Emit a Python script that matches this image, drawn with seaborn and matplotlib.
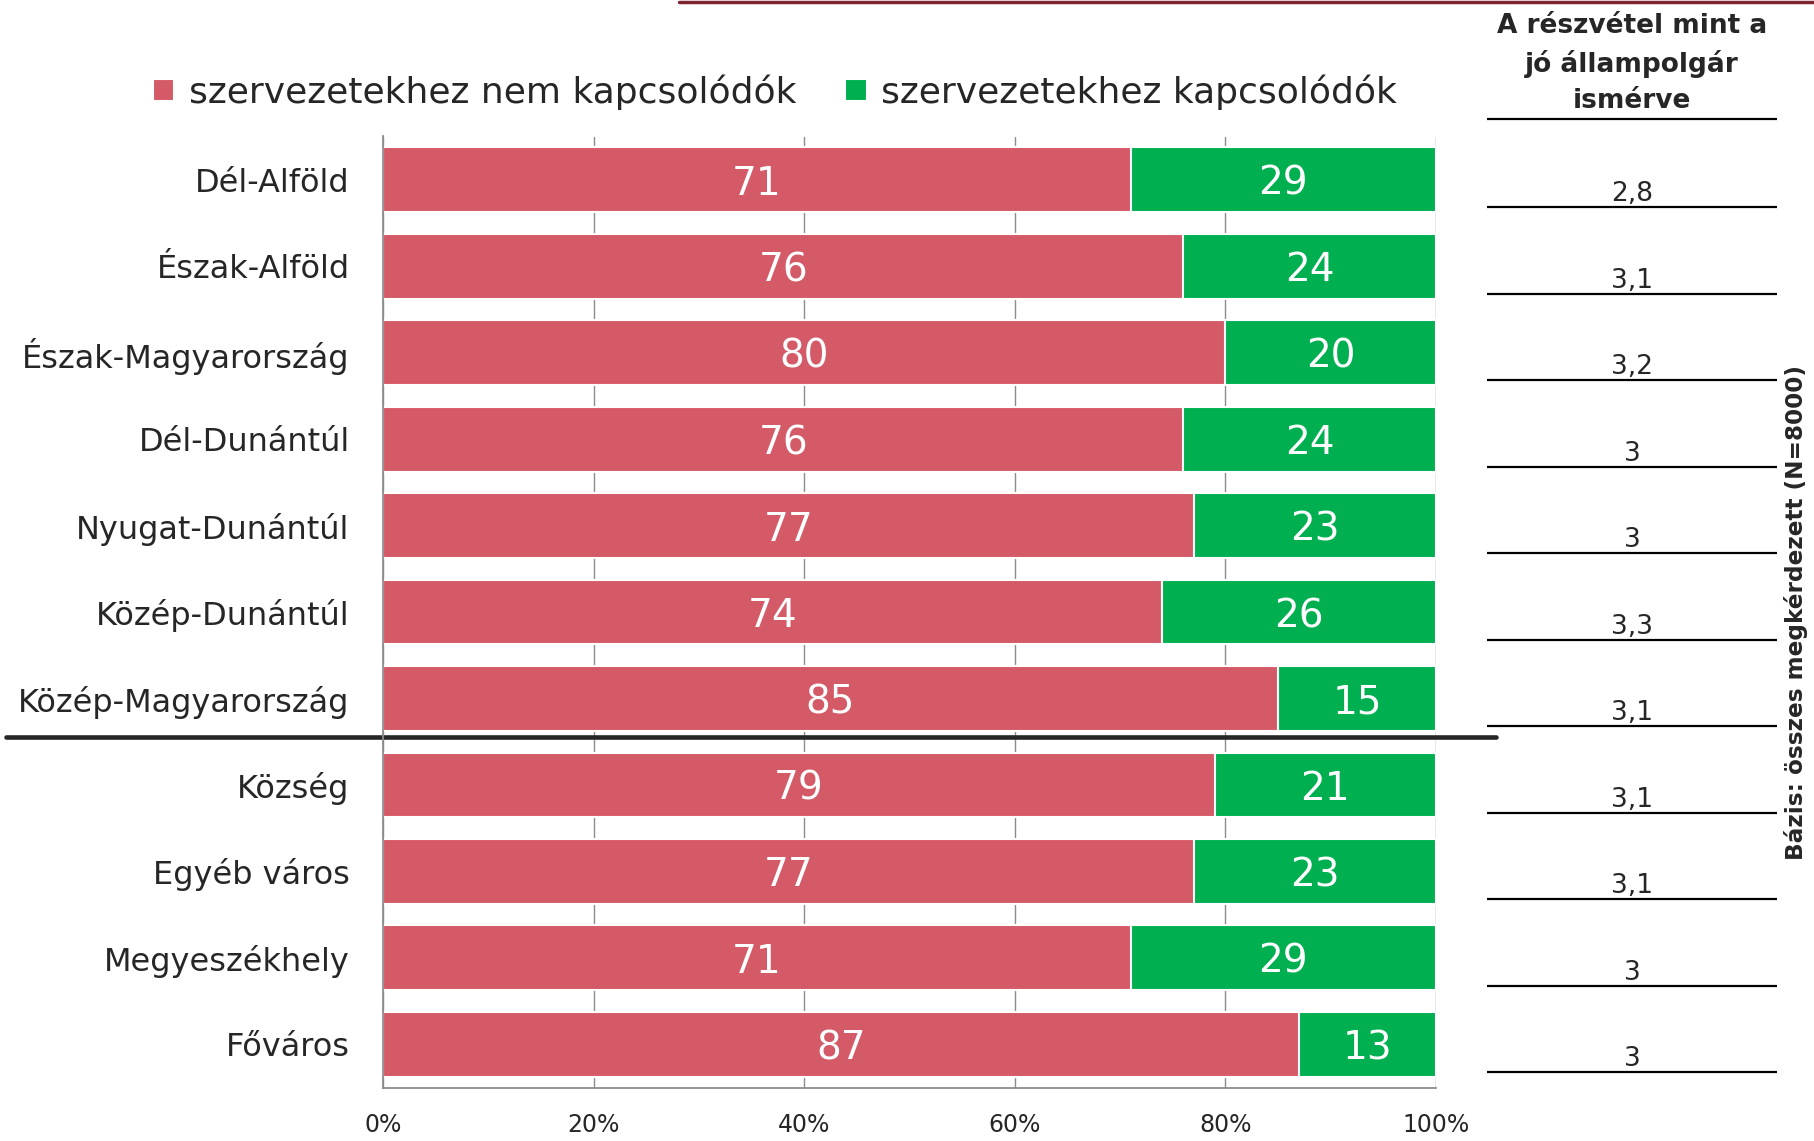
import numpy as np
import pandas as pd
import matplotlib.pyplot as plt
from matplotlib.lines import Line2D
import seaborn as sbs


# Data
regions = ["Dél-Alföld", "Észak-Alföld", "Észak-Magyarország", "Dél-Dunántúl",
           "Nyugat-Dunántúl", "Közép-Dunántúl", "Közép-Magyarország",
           "Község", "Egyéb város", "Megyeszékhely", "Főváros"]
not_linked = [71, 76, 80, 76, 77, 74, 85, 79, 77, 71, 87]
linked = [29, 24, 20, 24, 23, 26, 15, 21, 23, 29, 13]
citizen_score = ["2,8", "3,1", "3,2", "3", "3", "3,3", "3,1", "3,1", "3,1", "3", "3"]
x_ticks = [0, 20, 40, 60, 80, 100]
x_tick_labels = ["0%", "20%", "40%", "60%", "80%", "100%"]

label_red = "szervezetekhez nem kapcsolódók"
label_green = "szervezetekhez kapcsolódók"

red = "#D45A68"
green = "#00B050"
grey = "#8C8C8C"

results = pd.DataFrame({"region": regions, "red": not_linked, "green": linked})
results["total"] = results["red"] + results["green"]

sbs.set_style("white")
plt.rcParams["font.family"] = ["DejaVu Sans"]

W, H = 1814, 1141
fig = plt.figure(figsize = (W / 100, H / 100), dpi = 100)

ax_left, ax_right = 383 / W, 1436 / W
ax_top, ax_bottom = 1 - 136.5 / H, 1 - 1087.6 / H
ax = fig.add_axes([ax_left, ax_bottom, ax_right - ax_left, ax_top - ax_bottom])

# Stacked bars: full-length green underneath, red on top
sbs.barplot(data = results, x = "total", y = "region", orient = "h", order = regions,
            color = green, saturation = 1, width = 0.75, edgecolor = "white", linewidth = 1.5,
            label = label_green, ax = ax)
sbs.barplot(data = results, x = "red", y = "region", orient = "h", order = regions,
            color = red, saturation = 1, width = 0.75, edgecolor = "white", linewidth = 1.5,
            label = label_red, ax = ax)
handles, labels = ax.get_legend_handles_labels()
if ax.get_legend() is not None:
    ax.get_legend().remove()

for i, (r, g) in enumerate(zip(not_linked, linked)):
    ax.text(r / 2, i, str(r), ha = "center", va = "center_baseline", color = "white", fontsize = 28)
    ax.text(r + g / 2, i, str(g), ha = "center", va = "center_baseline", color = "white", fontsize = 28)

ax.set_xlim(0, 100)
ax.set_ylim(10.5, -0.5)
ax.set_xticks(x_ticks, x_tick_labels, fontsize = 17)
ax.set_yticks(range(len(regions)), regions, fontsize = 23, color = "#262626")
ax.set_yticks(np.arange(-0.5, len(regions)), minor = True)
ax.tick_params(axis = "y", which = "major", length = 0, pad = 24)
ax.tick_params(axis = "y", which = "minor", length = 7, color = grey, width = 1.2, direction = "out")
ax.tick_params(axis = "x", length = 7, color = grey, width = 1.2, direction = "out", pad = 11)
ax.set_xlabel("")
ax.set_ylabel("")
ax.grid(axis = "x", color = grey, linewidth = 1)
ax.set_axisbelow(True)
for side in ["top", "right"]:
    ax.spines[side].set_visible(False)
for side in ["left", "bottom"]:
    ax.spines[side].set_color(grey)
    ax.spines[side].set_linewidth(1.3)

# Separator between regions and settlement types
ax.plot([-0.358, 1.057], [6.45, 6.45], color = "#262626", linewidth = 3.3,
        transform = ax.get_yaxis_transform(), clip_on = False)

# Legend (red first)
handles, labels = handles[::-1], labels[::-1]
fig.legend(handles, labels, loc = "center left", bbox_to_anchor = (120 / W, 1 - 92 / H),
           ncol = 2, frameon = False, fontsize = 26, handlelength = 0.6, handleheight = 0.6,
           handletextpad = 0.4, columnspacing = 1.35, labelcolor = "#262626")

# Right-hand table
tab = fig.add_axes([1487 / W, ax_bottom, 290 / W, ax_top - ax_bottom], sharey = ax)
tab.set_xlim(0, 1)
tab.axis("off")
tab.hlines([-0.70] + [i + 0.32 for i in range(len(regions))], 0, 1,
           color = "black", linewidth = 1.6, clip_on = False)
for i, v in enumerate(citizen_score):
    tab.text(0.5, i + 0.25, v, ha = "center", va = "baseline", fontsize = 19)
tab.text(0.5, -0.76, "A részvétel mint a\njó állampolgár\nismérve", ha = "center",
         va = "bottom", multialignment = "center", fontsize = 19, fontweight = "bold",
         linespacing = 1.5)

fig.text(1796 / W, 1 - 613 / H, "Bázis: összes megkérdezett (N=8000)", rotation = 90,
         ha = "center", va = "center", fontsize = 16.7, fontweight = "bold")

fig.add_artist(Line2D([679 / W, 1], [1 - 1.5 / H, 1 - 1.5 / H], color = "#7F2432", linewidth = 2.5))

fig.savefig("out.png", dpi = 100)
